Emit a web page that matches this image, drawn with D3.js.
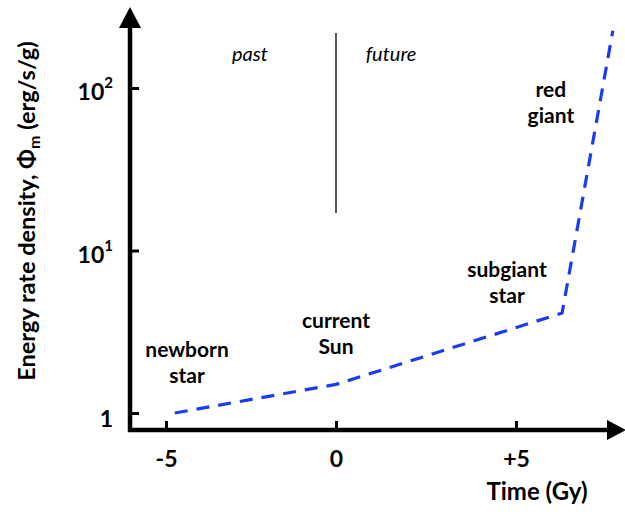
<!DOCTYPE html>
<html><head><meta charset="utf-8">
<script src="https://cdn.jsdelivr.net/npm/d3@7"></script>
<style>body{margin:0;background:#fff}svg{display:block}</style>
</head><body>
<svg id="c" width="625" height="512"></svg>
<script>
// Data
const timeGy = [-4.74, 0, 6.28, 7.69];
const energyRate = [1.0, 1.5, 4.12, 225];
const xTicks = [-5, 0, 5];
const xTickLabels = ["-5", "0", "+5"];
const yTicks = [1, 10, 100];
const yTickBase = ["1", "10", "10"];
const yTickExp = ["", "1", "2"];
const stageLabels = [
  {lines:["newborn","star"], t:-4.38, v:2.21},
  {lines:["current","Sun"], t:0, v:3.34},
  {lines:["subgiant","star"], t:4.75, v:6.87},
  {lines:["red","giant"], t:5.97, v:88}
];
const eraLabels = [{text:"past", t:-2.53}, {text:"future", t:1.53}];

const font = "Lato, 'Open Sans', sans-serif";
const svg = d3.select("#c");
const x = d3.scaleLinear().domain([-5, 0, 5]).range([166, 336, 516]);
const y = d3.scaleLog().domain([1, 100]).range([413, 88]);
const axisX0 = 130, axisY0 = 430;

// Axis lines
svg.append("line").attr("x1", axisX0).attr("x2", axisX0).attr("y1", axisY0 + 2).attr("y2", 24)
  .attr("stroke", "#000").attr("stroke-width", 4.5);
svg.append("line").attr("x1", axisX0 - 2).attr("x2", 612).attr("y1", axisY0).attr("y2", axisY0)
  .attr("stroke", "#000").attr("stroke-width", 4.5);
svg.append("path").attr("d", `M${axisX0},7 L${axisX0-11},28 L${axisX0+11},28 Z`).attr("fill", "#000");
svg.append("path").attr("d", `M626,${axisY0} L607,${axisY0-10} L607,${axisY0+10} Z`).attr("fill", "#000");

// X axis ticks
const gx = svg.append("g").attr("transform", `translate(0,${axisY0})`)
  .call(d3.axisBottom(x).tickValues(xTicks).tickSize(-9).tickPadding(21)
    .tickFormat((d, i) => xTickLabels[i]));
gx.select(".domain").remove();
gx.selectAll(".tick line").attr("stroke", "#000").attr("stroke-width", 3);
gx.selectAll(".tick text").attr("font-family", font).attr("font-weight", "bold")
  .attr("font-size", 23).attr("fill", "#000");

// Y axis ticks
const gy = svg.append("g").attr("transform", `translate(${axisX0},0)`)
  .call(d3.axisLeft(y).tickValues(yTicks).tickSize(-9).tickPadding(17).tickFormat(() => ""));
gy.select(".domain").remove();
gy.selectAll(".tick line").attr("stroke", "#000").attr("stroke-width", 3);
gy.selectAll(".tick text").each(function(d, i) {
  const t = d3.select(this).attr("font-family", font).attr("font-weight", "bold")
    .attr("font-size", 23).attr("fill", "#000").attr("dy", i === 0 ? "0.6em" : "0.5em");
  t.append("tspan").text(yTickBase[i]);
  if (yTickExp[i]) t.append("tspan").attr("font-size", 15).attr("dy", "-0.8em").text(yTickExp[i]);
});

// Present divider
svg.append("line").attr("x1", x(0)).attr("x2", x(0)).attr("y1", 33).attr("y2", 213)
  .attr("stroke", "#000").attr("stroke-width", 1.3);

// Era labels
svg.selectAll(".era").data(eraLabels).join("text")
  .attr("x", d => x(d.t)).attr("y", 61).attr("text-anchor", "middle")
  .attr("font-family", font).attr("font-style", "italic").attr("font-size", 20)
  .attr("fill", "#000").text(d => d.text);

// Line
const line = d3.line().x((d, i) => x(timeGy[i])).y((d, i) => y(energyRate[i]));
svg.append("path").datum(energyRate).attr("d", line).attr("fill", "none")
  .attr("stroke", "#1a3cf0").attr("stroke-width", 3.2).attr("stroke-dasharray", "13,9");

// Stage labels
stageLabels.forEach(s => {
  const t = svg.append("text").attr("x", x(s.t)).attr("y", y(s.v)).attr("text-anchor", "middle")
    .attr("font-family", font).attr("font-weight", "bold").attr("font-size", 21).attr("fill", "#000");
  s.lines.forEach((l, i) => t.append("tspan").attr("x", x(s.t)).attr("dy", i ? 26 : 0).text(l));
});

// Axis titles
svg.append("text").attr("x", 537).attr("y", 500).attr("text-anchor", "middle")
  .attr("font-family", font).attr("font-weight", "bold").attr("font-size", 24).attr("fill", "#000")
  .text("Time (Gy)");
const yt = svg.append("text").attr("transform", "translate(35,211) rotate(-90)").attr("text-anchor", "middle")
  .attr("font-family", font).attr("font-weight", "bold").attr("font-size", 23.5).attr("fill", "#000");
yt.append("tspan").text("Energy rate density, Φ");
yt.append("tspan").attr("font-size", 16).attr("dy", 5).text("m");
yt.append("tspan").attr("dy", -5).text(" (erg/s/g)");
</script>
</body></html>
